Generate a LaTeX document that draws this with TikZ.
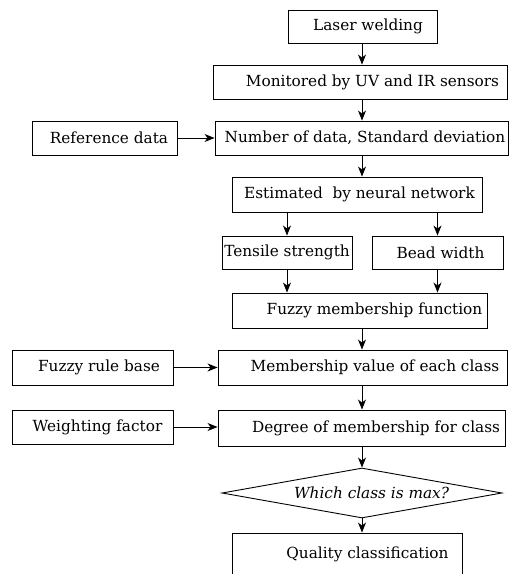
\documentclass[tikz,border=0pt]{standalone}
\usepackage{fontspec}
\setmainfont{DejaVu Serif}
\usetikzlibrary{shapes.geometric,arrows.meta}
\begin{document}
\begin{tikzpicture}[x=1pt,y=-1pt,
  box/.style={draw, line width=0.9pt, inner sep=0pt, rectangle},
  txt/.style={inner sep=0pt, font=\fontsize{15.3}{18}\selectfont},
  arr/.style={line width=0.9pt, -{Stealth[length=10pt,width=8pt,inset=3pt]}}]
\useasboundingbox (0,0) rectangle (509,574);
\coordinate (mx) at (362,0);
% boxes
\node[box, minimum width=149, minimum height=33] (laser) at (362.5,26.5) {};
\node[txt] (laserT) at (368,26.5) {Laser welding};
\node[box, minimum width=294, minimum height=34] (mon) at (360,82) {};
\node[txt] (monT) at (372.5,82) {Monitored by UV and IR sensors};
\node[box, minimum width=293, minimum height=34] (num) at (361.5,138) {};
\node[txt] (numT) at (365,138) {Number of data, Standard deviation};
\node[box, minimum width=145, minimum height=34] (ref) at (104.5,138) {};
\node[txt] (refT) at (109,138) {Reference data};
\node[box, minimum width=250, minimum height=35] (est) at (357,194.5) {};
\node[txt] (estT) at (359.5,194.5) {Estimated\ \ by neural network};
\node[box, minimum width=130, minimum height=33] (ten) at (287,252.5) {};
\node[txt] (tenT) at (287,252.5) {Tensile strength};
\node[box, minimum width=131, minimum height=33] (bead) at (437.5,252.5) {};
\node[txt] (beadT) at (440.5,252.5) {Bead width};
\node[box, minimum width=255, minimum height=35] (fmf) at (359.5,310.5) {};
\node[txt] (fmfT) at (374.5,310.5) {Fuzzy membership function};
\node[box, minimum width=289, minimum height=35] (mv) at (362.5,367.5) {};
\node[txt] (mvT) at (375,367.5) {Membership value of each class};
\node[box, minimum width=161, minimum height=35] (frb) at (92.5,367.5) {};
\node[txt] (frbT) at (99,367.5) {Fuzzy rule base};
\node[box, minimum width=287, minimum height=36] (deg) at (361.5,428) {};
\node[txt] (degT) at (376,428) {Degree of membership for class};
\node[box, minimum width=161, minimum height=34] (wf) at (92.5,427) {};
\node[txt] (wfT) at (97.5,427) {Weighting factor};
\node[draw, line width=0.9pt, diamond, aspect=5.6, inner sep=0pt, minimum width=280, minimum height=50] (dia) at (362,493) {};
\node[txt, font=\fontsize{15.3}{18}\selectfont\itshape] (diaT) at (371.5,493) {Which class is max?};
\node[box, minimum width=230, minimum height=46] (qual) at (347,556) {};
\node[txt] (qualT) at (367.5,554) {Quality classification};
% connectors
\draw[arr] (laser.south -| mx) -- (mon.north -| mx);
\draw[arr] (mon.south -| mx) -- (num.north -| mx);
\draw[arr] (num.south -| mx) -- (est.north -| mx);
\draw[arr] (ref.east) -- (num.west |- ref.east);
\draw[arr] (est.south -| ten.north) -- (ten.north);
\draw[arr] (est.south -| bead.north) -- (bead.north);
\draw[arr] (ten.south) -- (fmf.north -| ten.south);
\draw[arr] (bead.south) -- (fmf.north -| bead.south);
\draw[arr] (fmf.south -| mx) -- (mv.north -| mx);
\draw[arr] (frb.east) -- (mv.west |- frb.east);
\draw[arr] (mv.south -| mx) -- (deg.north -| mx);
\draw[arr] (wf.east) -- (deg.west |- wf.east);
\draw[arr] (deg.south -| mx) -- (dia.north);
\draw[arr] (dia.south) -- (qual.north -| dia.south);
\end{tikzpicture}
\end{document}
